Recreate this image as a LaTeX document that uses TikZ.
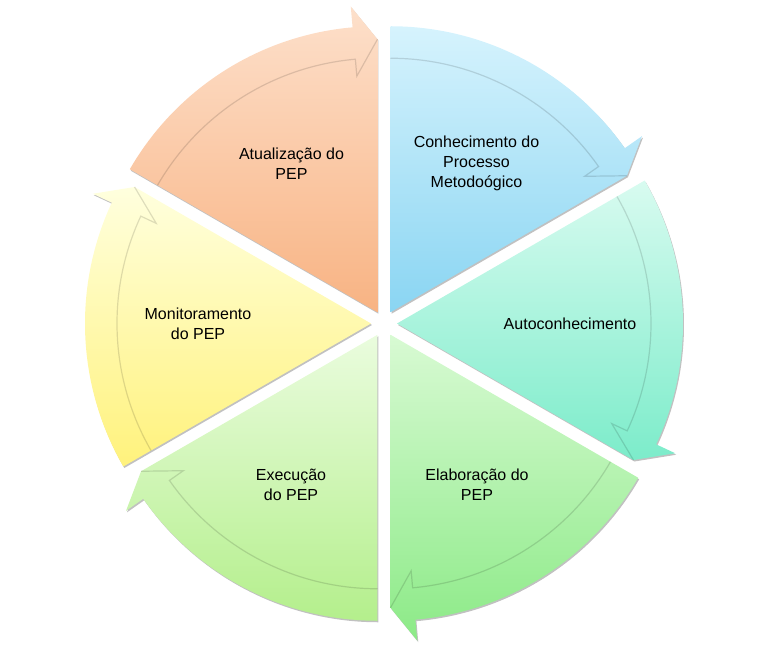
\documentclass[tikz,border=0pt]{standalone}
\usepackage{fontspec}
\setmainfont{Liberation Sans}
\usepackage{xcolor}
\usepackage{tikz}
\usetikzlibrary{shadows,positioning,calc}

\definecolor{atuTop}{HTML}{FDE0CB}
\definecolor{atuBot}{HTML}{F8B383}
\definecolor{conTop}{HTML}{D6F3FD}
\definecolor{conBot}{HTML}{8AD5F2}
\definecolor{autTop}{HTML}{D8FBF0}
\definecolor{autBot}{HTML}{7CECCA}
\definecolor{elaTop}{HTML}{D8FAD3}
\definecolor{elaBot}{HTML}{8CEA87}
\definecolor{exeTop}{HTML}{EAFCDE}
\definecolor{exeBot}{HTML}{B4EF8C}
\definecolor{monTop}{HTML}{FFFFDE}
\definecolor{monBot}{HTML}{FFF27C}

\begin{document}
\begin{tikzpicture}[x=1pt,y=1pt,
    seg/.style={drop shadow={shadow xshift=1pt,shadow yshift=-1.5pt,opacity=0.35,fill=black!70}},
    bandline/.style={draw=black,opacity=0.13,line width=1.2pt},
    txt/.style={align=center,font=\fontsize{16}{20}\selectfont}]
    \useasboundingbox (-384,-329.5) rectangle (384,323.5);

    % Segments (clockwise arrows)
    \foreach \s/\ctop/\cbot in {150/atuTop/atuBot, 90/conTop/conBot, 30/autTop/autBot,
                                -30/elaTop/elaBot, -90/exeTop/exeBot, -150/monTop/monBot} {
        \pgfmathsetmacro\e{\s-60}
        \begin{scope}[shift={({\s-30}:13)}]
            \path[seg,top color=\ctop,bottom color=\cbot]
                (0,0) -- (\s:286) arc[start angle=\s,end angle=\e+5,radius=286]
                -- ({\e+5}:307) -- (\e:273) -- cycle;
            \draw[bandline] (\s:254) arc[start angle=\s,end angle=\e+5,radius=254]
                -- ({\e+5}:237) -- (\e:273);
        \end{scope}
    }

    % Labels
    \node[txt] (atual) at (120:185) {Atualização do\\PEP};
    \node[txt] (conhec) at (60:185) {Conhecimento do\\Processo\\Metodoógico};
    \node[txt] (auto) at (0:186) {Autoconhecimento};
    \node[txt] (elab) at (-60:186) {Elaboração do\\PEP};
    \node[txt] (exec) at (-120:186) {Execução\\do PEP};
    \node[txt] (monit) at (180:186) {Monitoramento\\do PEP};
\end{tikzpicture}
\end{document}
